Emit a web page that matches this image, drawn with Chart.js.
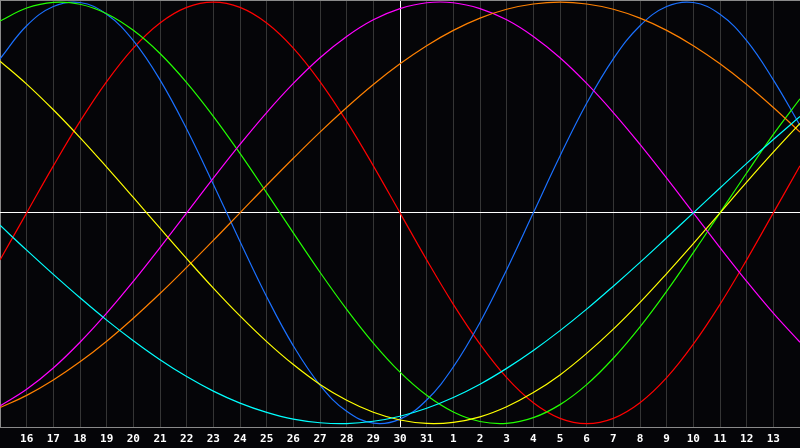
<!DOCTYPE html>
<html>
<head>
<meta charset="utf-8">
<script src="https://cdn.jsdelivr.net/npm/chart.js@4/dist/chart.umd.min.js"></script>
<style>
  html, body { margin: 0; padding: 0; background: #050508; }
  #wrap { width: 800px; height: 448px; position: relative; }
  canvas { display: block; background: #050508; }
</style>
</head>
<body>
<div id="wrap"><canvas id="c" width="800" height="448"></canvas></div>
<script>
// Day labels (first and last positions are unlabeled edges)
const days = ['15','16','17','18','19','20','21','22','23','24','25','26','27','28','29','30','31',
              '1','2','3','4','5','6','7','8','9','10','11','12','13','14'];
const todayIndex = 15;
const yMin = -102, yMax = 101;
const yGridValues = [yMin, 0, yMax];

const red     = [-22.3, 0, 22.3, 43.4, 62.3, 78.2, 90.1, 97.5, 100, 97.5, 90.1, 78.2, 62.3, 43.4, 22.3, 0,
                 -22.3, -43.4, -62.3, -78.2, -90.1, -97.5, -100, -97.5, -90.1, -78.2, -62.3, -43.4, -22.3, 0, 22.3];
const blue    = [73.1, 88.8, 97.9, 99.8, 94.2, 81.7, 63.1, 39.8, 13.6, -13.6, -39.8, -63.1, -81.7, -94.2, -99.8, -97.9,
                 -88.8, -73.1, -52.0, -27.0, 0, 27.0, 52.0, 73.1, 88.8, 97.9, 99.8, 94.2, 81.7, 63.1, 41.5];
const green   = [91.0, 97.2, 99.9, 99.0, 94.5, 86.6, 75.6, 61.8, 45.8, 28.2, 9.5, -9.5, -28.2, -45.8, -61.8, -75.6,
                 -86.6, -94.5, -99.0, -99.9, -97.2, -91.0, -81.5, -69.0, -54.1, -37.2, -18.9, 0, 18.9, 37.2, 54.1];
const magenta = [-91.6, -83.7, -73.6, -61.4, -47.6, -32.5, -16.5, 0, 16.5, 32.5, 47.6, 61.4, 73.6, 83.7, 91.6, 96.9,
                 99.7, 99.7, 96.9, 91.6, 83.7, 73.6, 61.4, 47.6, 32.5, 16.5, 0, -16.5, -32.5, -47.6, -61.4];
const orange  = [-92.4, -86.6, -79.3, -70.7, -60.9, -50.0, -38.3, -25.9, -13.1, 0, 13.1, 25.9, 38.3, 50.0, 60.9, 70.7,
                 79.3, 86.6, 92.4, 96.6, 99.1, 100, 99.1, 96.6, 92.4, 86.6, 79.3, 70.7, 60.9, 50.0, 38.3];
const yellow  = [72.0, 61.1, 48.9, 35.7, 21.7, 7.3, -7.3, -21.7, -35.7, -48.9, -61.1, -72.0, -81.4, -88.9, -94.6, -98.3,
                 -99.9, -99.4, -96.8, -92.0, -85.3, -76.9, -66.7, -55.2, -42.5, -28.8, -14.6, 0, 14.6, 28.8, 42.5];
const cyan    = [-5.9, -17.7, -29.2, -40.3, -50.9, -60.7, -69.7, -77.7, -84.6, -90.3, -94.7, -97.9, -99.6, -100.0, -98.9, -96.5,
                 -92.7, -87.6, -81.3, -73.8, -65.3, -55.9, -45.7, -34.8, -23.5, -11.8, 0, 11.8, 23.5, 34.8, 45.7];

const seriesList = [
  { data: cyan,    color: '#00ffff' },
  { data: yellow,  color: '#ffff00' },
  { data: orange,  color: '#ff8000' },
  { data: magenta, color: '#ff00ff' },
  { data: green,   color: '#22ff00' },
  { data: blue,    color: '#1a70ff' },
  { data: red,     color: '#ff0000' }
];

new Chart(document.getElementById('c'), {
  type: 'line',
  data: {
    labels: days,
    datasets: seriesList.map(s => ({
      data: s.data,
      borderColor: s.color,
      borderWidth: 1.2,
      pointRadius: 0,
      pointHoverRadius: 0,
      pointHitRadius: 0,
      tension: 0.4,
      fill: false
    }))
  },
  options: {
    responsive: false,
    animation: false,
    events: [],
    layout: { autoPadding: false, padding: { left: 0, right: 0, top: 0, bottom: 2 } },
    plugins: { legend: { display: false }, tooltip: { enabled: false } },
    scales: {
      x: {
        offset: false,
        border: { display: false },
        grid: {
          drawTicks: true,
          tickLength: 5,
          tickColor: 'rgba(0,0,0,0)',
          lineWidth: 1,
          color: ctx => {
            if (ctx.index === todayIndex) return '#ffffff';
            if (ctx.index === 0) return '#8a8a8a';
            if (ctx.index === days.length - 1) return 'rgba(0,0,0,0)';
            return '#353535';
          }
        },
        ticks: {
          autoSkip: false,
          maxRotation: 0,
          minRotation: 0,
          padding: 0,
          color: '#ffffff',
          font: { family: 'DejaVu Sans Mono', size: 11, weight: 'bold' },
          callback: (v, i) => (i === 0 || i === days.length - 1) ? '' : days[i]
        }
      },
      y: {
        min: yMin,
        max: yMax,
        afterBuildTicks: axis => { axis.ticks = yGridValues.map(v => ({ value: v })); },
        border: { display: false },
        grid: {
          drawTicks: false,
          lineWidth: 1,
          color: ctx => ctx.tick && ctx.tick.value === 0 ? '#ffffff' : '#8a8a8a'
        },
        ticks: { display: false, padding: 0 }
      }
    }
  }
});
</script>
</body>
</html>
